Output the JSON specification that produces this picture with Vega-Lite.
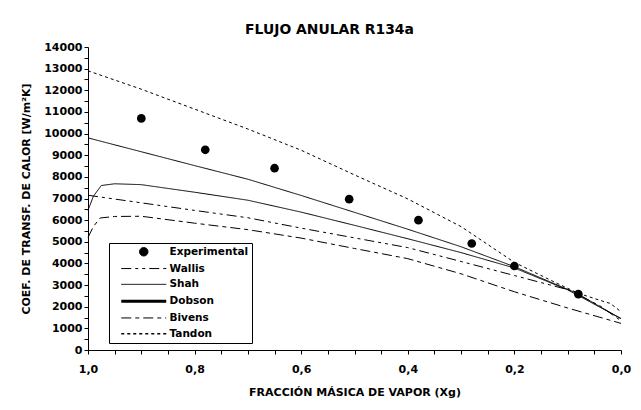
{
  "$schema": "https://vega.github.io/schema/vega-lite/v6.json",
  "width": 533,
  "height": 303,
  "autosize": {"type": "none"},
  "padding": {"left": 88, "top": 47, "right": 20, "bottom": 60},
  "background": "white",
  "config": {
    "view": {"stroke": null},
    "font": "DejaVu Sans",
    "axis": {
      "labelColor": "black", "titleColor": "black", "domainColor": "black", "tickColor": "black",
      "labelFontWeight": "bold", "titleFontWeight": "bold", "labelFont": "DejaVu Sans", "titleFont": "DejaVu Sans",
      "labelFontSize": 11, "titleFontSize": 11, "grid": false, "tickSize": 4, "domainWidth": 1, "tickWidth": 1
    }
  },
  "title": {"text": "FLUJO ANULAR R134a", "fontSize": 13.9, "font": "DejaVu Sans", "fontWeight": "bold", "color": "black", "anchor": "middle", "dx": -25, "offset": 4},
  "data": {"values": [
    {"series": "Experimental", "x": 0.90, "y": 10700},
    {"series": "Experimental", "x": 0.78, "y": 9250},
    {"series": "Experimental", "x": 0.65, "y": 8400},
    {"series": "Experimental", "x": 0.51, "y": 6970},
    {"series": "Experimental", "x": 0.38, "y": 6000},
    {"series": "Experimental", "x": 0.28, "y": 4920},
    {"series": "Experimental", "x": 0.20, "y": 3880},
    {"series": "Experimental", "x": 0.08, "y": 2580},

    {"series": "Dobson", "x": 1.0, "y": 9800},
    {"series": "Dobson", "x": 0.9, "y": 9160},
    {"series": "Dobson", "x": 0.8, "y": 8520},
    {"series": "Dobson", "x": 0.7, "y": 7890},
    {"series": "Dobson", "x": 0.6, "y": 7140},
    {"series": "Dobson", "x": 0.5, "y": 6360},
    {"series": "Dobson", "x": 0.4, "y": 5580},
    {"series": "Dobson", "x": 0.3, "y": 4770},
    {"series": "Dobson", "x": 0.2, "y": 3850},
    {"series": "Dobson", "x": 0.1, "y": 2800},
    {"series": "Dobson", "x": 0.08, "y": 2585},
    {"series": "Dobson", "x": 0.04, "y": 2010},
    {"series": "Dobson", "x": 0.0, "y": 1450},

    {"series": "Shah", "x": 1.0, "y": 6450},
    {"series": "Shah", "x": 0.99, "y": 7100},
    {"series": "Shah", "x": 0.975, "y": 7600},
    {"series": "Shah", "x": 0.95, "y": 7680},
    {"series": "Shah", "x": 0.9, "y": 7640},
    {"series": "Shah", "x": 0.8, "y": 7290},
    {"series": "Shah", "x": 0.7, "y": 6920},
    {"series": "Shah", "x": 0.6, "y": 6370},
    {"series": "Shah", "x": 0.5, "y": 5760},
    {"series": "Shah", "x": 0.4, "y": 5140},
    {"series": "Shah", "x": 0.3, "y": 4500},
    {"series": "Shah", "x": 0.2, "y": 3790},
    {"series": "Shah", "x": 0.1, "y": 2780},
    {"series": "Shah", "x": 0.0, "y": 1450},

    {"series": "Wallis", "x": 1.0, "y": 7150},
    {"series": "Wallis", "x": 0.9, "y": 6800},
    {"series": "Wallis", "x": 0.8, "y": 6450},
    {"series": "Wallis", "x": 0.7, "y": 6110},
    {"series": "Wallis", "x": 0.6, "y": 5630},
    {"series": "Wallis", "x": 0.5, "y": 5180},
    {"series": "Wallis", "x": 0.4, "y": 4730},
    {"series": "Wallis", "x": 0.3, "y": 4090},
    {"series": "Wallis", "x": 0.2, "y": 3440},
    {"series": "Wallis", "x": 0.1, "y": 2790},
    {"series": "Wallis", "x": 0.04, "y": 2050},
    {"series": "Wallis", "x": 0.0, "y": 1350},

    {"series": "Bivens", "x": 1.0, "y": 5200},
    {"series": "Bivens", "x": 0.99, "y": 5700},
    {"series": "Bivens", "x": 0.977, "y": 6100},
    {"series": "Bivens", "x": 0.95, "y": 6170},
    {"series": "Bivens", "x": 0.9, "y": 6180},
    {"series": "Bivens", "x": 0.8, "y": 5860},
    {"series": "Bivens", "x": 0.7, "y": 5560},
    {"series": "Bivens", "x": 0.6, "y": 5170},
    {"series": "Bivens", "x": 0.5, "y": 4690},
    {"series": "Bivens", "x": 0.4, "y": 4220},
    {"series": "Bivens", "x": 0.3, "y": 3520},
    {"series": "Bivens", "x": 0.2, "y": 2690},
    {"series": "Bivens", "x": 0.1, "y": 1940},
    {"series": "Bivens", "x": 0.0, "y": 1230},

    {"series": "Tandon", "x": 1.0, "y": 12900},
    {"series": "Tandon", "x": 0.9, "y": 12050},
    {"series": "Tandon", "x": 0.8, "y": 11130},
    {"series": "Tandon", "x": 0.7, "y": 10210},
    {"series": "Tandon", "x": 0.6, "y": 9230},
    {"series": "Tandon", "x": 0.5, "y": 8090},
    {"series": "Tandon", "x": 0.4, "y": 6980},
    {"series": "Tandon", "x": 0.3, "y": 5700},
    {"series": "Tandon", "x": 0.2, "y": 4050},
    {"series": "Tandon", "x": 0.12, "y": 3080},
    {"series": "Tandon", "x": 0.08, "y": 2620},
    {"series": "Tandon", "x": 0.04, "y": 2300},
    {"series": "Tandon", "x": 0.02, "y": 2150},
    {"series": "Tandon", "x": 0.0, "y": 1770}
  ]},
  "encoding": {
    "x": {"field": "x", "type": "quantitative", "scale": {"domain": [0, 1], "reverse": true, "nice": false},
      "axis": {"title": "FRACCIÓN MÁSICA DE VAPOR (Xg)", "values": [0, 0.05, 0.1, 0.15, 0.2, 0.25, 0.3, 0.35, 0.4, 0.45, 0.5, 0.55, 0.6, 0.65, 0.7, 0.75, 0.8, 0.85, 0.9, 0.95, 1.0],
        "labelExpr": "(round(datum.value*100) % 20 === 0) ? replace(format(datum.value, '.1f'), '.', ',') : ''",
        "labelPadding": 9, "titlePadding": 12, "labelFlush": false, "labelOverlap": false}},
    "y": {"field": "y", "type": "quantitative", "scale": {"domain": [0, 14000], "nice": false},
      "axis": {"title": "COEF. DE TRANSF. DE CALOR [W/m²K]", "values": [0,500,1000,1500,2000,2500,3000,3500,4000,4500,5000,5500,6000,6500,7000,7500,8000,8500,9000,9500,10000,10500,11000,11500,12000,12500,13000,13500,14000],
        "labelExpr": "datum.value % 1000 === 0 ? format(datum.value, 'd') : ''",
        "labelFontSize": {"condition": {"test": "datum.value % 1000 !== 0", "value": 0}, "value": 11},
        "labelPadding": 2, "titlePadding": 12, "labelFlush": false, "labelOverlap": false}}
  },
  "layer": [
    {
      "transform": [{"filter": "datum.series !== 'Experimental'"}],
      "mark": {"type": "line", "color": "black"},
      "encoding": {
        "strokeDash": {"field": "series", "type": "nominal",
          "scale": {"domain": ["Experimental", "Wallis", "Shah", "Dobson", "Bivens", "Tandon"],
                    "range": [[1, 0], [10, 4, 3, 4, 3, 4], [1, 0], [1, 0], [10, 4, 4, 4], [3, 3]]},
          "legend": {
            "title": null, "orient": "none", "legendX": 21, "legendY": 196, "columns": 1,
            "strokeColor": "black", "fillColor": "white", "padding": 3.5,
            "symbolSize": 100, "symbolStrokeColor": "black", "symbolStrokeWidth": 1, "symbolOffset": 26,
            "labelFont": "DejaVu Sans", "labelFontWeight": "bold", "labelFontSize": 10.5, "labelColor": "black",
            "labelOffset": 20.5, "rowPadding": 4.8, "labelExpr": "datum.label + '\u2003'",
            "encode": {"symbols": {"update": {
              "shape": {"signal": "datum.value === 'Experimental' ? 'M-0.85,0A0.85,0.85,0,1,1,0.85,0A0.85,0.85,0,1,1,-0.85,0Z' : 'M-4.5,0H4.5'"},
              "fill": {"signal": "datum.value === 'Experimental' ? 'black' : 'transparent'"},
              "strokeWidth": {"signal": "datum.value === 'Dobson' ? 3 : (datum.value === 'Tandon' ? 1.5 : 1)"},
              "stroke": {"value": "black"}
            }}}
          }},
        "strokeWidth": {"field": "series", "type": "nominal",
          "scale": {"domain": ["Wallis", "Shah", "Dobson", "Bivens", "Tandon"], "range": [1, 1, 3, 1, 1.5]},
          "legend": null}
      }
    },
    {
      "transform": [{"filter": "datum.series === 'Experimental'"}],
      "mark": {"type": "point", "filled": true, "color": "black", "size": 75, "opacity": 1}
    }
  ]
}
